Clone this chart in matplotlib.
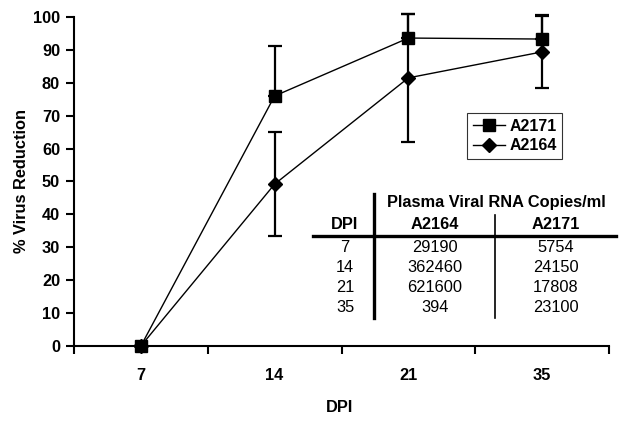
import matplotlib.pyplot as plt
import numpy as np

plt.rcParams["font.family"] = ["Liberation Sans", "DejaVu Sans"]

# data
dpi_days = ["7", "14", "21", "35"]
a2171 = [0, 76, 93.6, 93.3]
a2171_err_up = [0, 15.3, 7.3, 7.3]
a2164 = [0, 49.2, 81.5, 89.4]
a2164_err = [0, 15.8, 19.5, 11.0]

# inset table: plasma viral RNA copies/ml
table_dpi = ["7", "14", "21", "35"]
table_a2164 = ["29190", "362460", "621600", "394"]
table_a2171 = ["5754", "24150", "17808", "23100"]

W, H = 624, 425
fig = plt.figure(figsize=(W / 100, H / 100), dpi=100)
ax = fig.add_axes([74 / W, 1 - 346 / H, (609 - 74) / W, (346 - 17) / H])

x = np.arange(len(dpi_days))

ax.errorbar(x, a2164, yerr=a2164_err, fmt="none", ecolor="black",
            elinewidth=1.6, capsize=5, capthick=1.6, clip_on=False, zorder=2)
ax.errorbar(x, a2171, yerr=[np.zeros(len(x)), a2171_err_up], fmt="none",
            ecolor="black", elinewidth=1.6, capsize=5, capthick=1.6,
            clip_on=False, zorder=2)

ax.plot(x, a2171, color="black", lw=1.0, marker="s", ms=8.5,
        label="A2171", clip_on=False, zorder=3)
ax.plot(x, a2164, color="black", lw=1.0, marker="D", ms=7.5,
        label="A2164", clip_on=False, zorder=3)

ax.set_xlim(-0.5, len(x) - 0.5)
ax.set_ylim(0, 100)
ax.set_yticks(np.arange(0, 101, 10))
ax.set_xticks(x)
ax.set_xticklabels(dpi_days)
ax.set_xticks(np.arange(-0.5, len(x), 1), minor=True)
ax.tick_params(axis="x", which="major", length=0, pad=16, labelsize=11.8)
ax.tick_params(axis="x", which="minor", length=6, width=1.5, direction="out")
ax.tick_params(axis="y", length=6, width=1.5, labelsize=11.8, pad=4)
for lab in ax.get_xticklabels() + ax.get_yticklabels():
    lab.set_fontweight("bold")

for s in ["top", "right"]:
    ax.spines[s].set_visible(False)
for s in ["left", "bottom"]:
    ax.spines[s].set_linewidth(1.5)

ax.set_ylabel("% Virus Reduction", fontsize=11.8, fontweight="bold", labelpad=3)
fig.text(340 / W, 1 - 408 / H, "DPI", fontsize=11.8, fontweight="bold",
         ha="center", va="center")

leg = ax.legend(loc="upper left", bbox_to_anchor=((467 - 74) / 535, (346 - 113) / 329),
                frameon=True, fancybox=False, fontsize=11.5, handlelength=2.0,
                borderpad=0.35, labelspacing=0.3, handletextpad=0.3,
                borderaxespad=0)
leg.get_frame().set_edgecolor("black")
leg.get_frame().set_linewidth(0.8)
for t in leg.get_texts():
    t.set_fontweight("bold")


def fx(px):
    return px / W


def fy(py):
    return 1 - py / H


# table drawn with figure text and lines
fs = 11.8
fig.text(fx(496), fy(203), "Plasma Viral RNA Copies/ml", fontsize=fs,
         fontweight="bold", ha="center", va="center")
fig.text(fx(345), fy(224), "DPI", fontsize=fs, fontweight="bold",
         ha="center", va="center")
fig.text(fx(435), fy(224), "A2164", fontsize=fs, fontweight="bold",
         ha="center", va="center")
fig.text(fx(556), fy(224), "A2171", fontsize=fs, fontweight="bold",
         ha="center", va="center")
row_y = [247, 267, 287, 308]
for i, ry in enumerate(row_y):
    fig.text(fx(345), fy(ry), table_dpi[i], fontsize=fs, ha="center", va="center")
    fig.text(fx(435), fy(ry), table_a2164[i], fontsize=fs, ha="center", va="center")
    fig.text(fx(556), fy(ry), table_a2171[i], fontsize=fs, ha="center", va="center")

fig.add_artist(plt.Line2D([fx(313), fx(616)], [fy(236), fy(236)], color="black", lw=2.4))
fig.add_artist(plt.Line2D([fx(374), fx(374)], [fy(194), fy(318)], color="black", lw=2.4))
fig.add_artist(plt.Line2D([fx(495), fx(495)], [fy(215), fy(318)], color="black", lw=1.2))

fig.savefig("out.png", dpi=100)
